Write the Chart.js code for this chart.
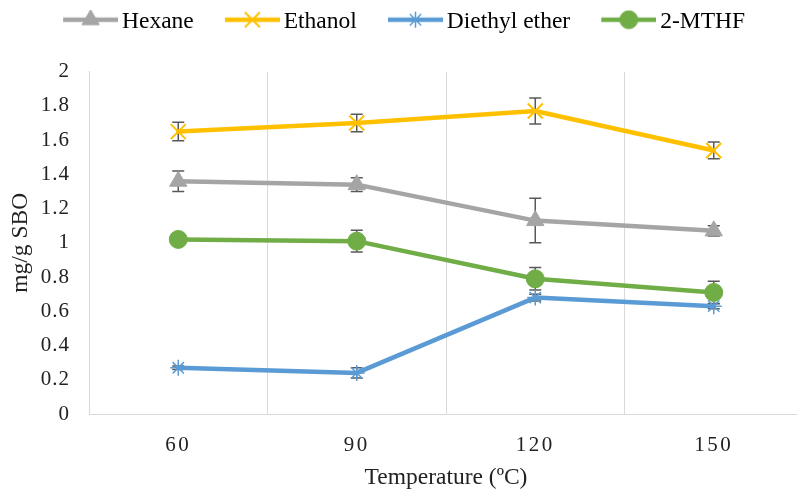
<!DOCTYPE html>
<html>
<head>
<meta charset="utf-8">
<title>Extraction yield vs temperature</title>
<script src="https://cdn.jsdelivr.net/npm/chart.js@4.4.1/dist/chart.umd.min.js"></script>
<style>
  html, body { margin: 0; padding: 0; background: #fff; overflow: hidden; }
  /* plot area runs a few px past the right edge of the window */
  #wrap { width: 803px; height: 492px; }
</style>
</head>
<body>
<div id="wrap"><canvas id="chart"></canvas></div>
<script>
// temperatures on the category axis
const temps = ['60', '90', '120', '150'];

// mean yield per solvent, mg/g SBO
const hexane = [1.36, 1.34, 1.13, 1.07];
const ethanol = [1.65, 1.70, 1.77, 1.54];
const diethylEther = [0.27, 0.24, 0.68, 0.63];
const mthf = [1.02, 1.01, 0.79, 0.71];

// +/- error for each point
const hexaneErr = [0.06, 0.04, 0.13, 0.03];
const ethanolErr = [0.054, 0.051, 0.076, 0.049];
const diethylErr = [0.01, 0.03, 0.02, 0.015];
const mthfErr = [0.02, 0.064, 0.066, 0.066];

const FONT = "'Liberation Serif', 'Times New Roman', serif";
const TEXT = '#222';
const GRID = '#d9d9d9';

// little line + marker picture for each legend entry
function legendIcon(color, style, r, bw) {
  const c = document.createElement('canvas');
  c.width = 84; c.height = 24;
  const g = c.getContext('2d');
  const cy = 10, x0 = 29, x1 = 84, cx = (x0 + x1) / 2;
  g.strokeStyle = color;
  g.lineWidth = 4.5;
  g.beginPath(); g.moveTo(x0, cy); g.lineTo(x1, cy); g.stroke();
  g.fillStyle = color;
  g.lineWidth = bw;
  g.beginPath();
  if (style === 'triangle') {
    for (let k = 0; k < 3; k++) {
      const a = k * 2 * Math.PI / 3;
      const px = cx + Math.sin(a) * r, py = cy - Math.cos(a) * r;
      k ? g.lineTo(px, py) : g.moveTo(px, py);
    }
    g.closePath(); g.fill(); g.stroke();
  } else if (style === 'circle') {
    g.arc(cx, cy, r, 0, Math.PI * 2); g.fill(); g.stroke();
  } else {
    const d = r * Math.SQRT1_2;
    g.moveTo(cx - d, cy - d); g.lineTo(cx + d, cy + d);
    g.moveTo(cx - d, cy + d); g.lineTo(cx + d, cy - d);
    if (style === 'star') {
      g.moveTo(cx, cy - r); g.lineTo(cx, cy + r);
      g.moveTo(cx - r, cy); g.lineTo(cx + r, cy);
    }
    g.stroke();
  }
  return c;
}

function series(label, data, errors, color, style, r, bw, order) {
  return {
    label, data, errors, order,
    borderColor: color,
    backgroundColor: color,
    borderWidth: 4.5,
    borderCapStyle: 'round',
    borderJoinStyle: 'round',
    tension: 0,
    fill: false,
    pointStyle: style,
    pointRadius: r,
    pointHoverRadius: r,
    pointBorderWidth: bw,
    pointBackgroundColor: color,
    pointBorderColor: color,
    icon: legendIcon(color, style, r, bw)
  };
}

// vertical error bars with caps, read through the scales
const errorBars = {
  id: 'errorBars',
  beforeDatasetsDraw(chart) {
    const { ctx, scales: { x, y } } = chart;
    ctx.save();
    ctx.strokeStyle = '#595959';
    ctx.lineWidth = 1.5;
    chart.data.datasets.forEach(ds => {
      ds.data.forEach((v, j) => {
        const e = ds.errors[j];
        if (!e) return;
        const px = x.getPixelForValue(j);
        const top = y.getPixelForValue(v + e);
        const bot = y.getPixelForValue(v - e);
        ctx.beginPath();
        ctx.moveTo(px, top); ctx.lineTo(px, bot);
        ctx.moveTo(px - 6, top); ctx.lineTo(px + 6, top);
        ctx.moveTo(px - 6, bot); ctx.lineTo(px + 6, bot);
        ctx.stroke();
      });
    });
    ctx.restore();
  }
};

// tick labels are set with a bit of letter spacing
const TICK_SPACING = { x: '2.5px', y: '1px' };
const spacedTicks = {
  id: 'spacedTicks',
  afterLayout(chart) {
    ['x', 'y'].forEach(id => {
      const s = chart.scales[id];
      if (s._spaced) return;
      const draw = s.drawLabels;
      s.drawLabels = function (area) {
        this.ctx.save();
        this.ctx.letterSpacing = TICK_SPACING[id];
        draw.call(this, area);
        this.ctx.restore();
      };
      s._spaced = true;
    });
  }
};

new Chart(document.getElementById('chart'), {
  type: 'line',
  data: {
    labels: temps,
    datasets: [
      series('Hexane', hexane, hexaneErr, '#a5a5a5', 'triangle', 10, 1, 4),
      series('Ethanol', ethanol, ethanolErr, '#ffc000', 'crossRot', 10.6, 2, 3),
      series('Diethyl ether', diethylEther, diethylErr, '#5b9bd5', 'star', 8, 1.5, 2),
      series('2-MTHF', mthf, mthfErr, '#70ad47', 'circle', 9, 1, 1)
    ]
  },
  plugins: [errorBars, spacedTicks],
  options: {
    responsive: true,
    maintainAspectRatio: false,
    animation: false,
    events: [],
    layout: {
      autoPadding: false,
      padding: { left: -16, right: 0, top: 0, bottom: 0 }
    },
    plugins: {
      tooltip: { enabled: false },
      legend: {
        position: 'top',
        labels: {
          usePointStyle: true,
          pointStyleWidth: 68.25,
          padding: 10,
          color: TEXT,
          font: { family: FONT, size: 23.5 },
          generateLabels: chart => chart.data.datasets.map((ds, i) => ({
            text: ds.label,
            pointStyle: ds.icon,
            fillStyle: ds.borderColor,
            strokeStyle: ds.borderColor,
            lineWidth: 0,
            hidden: false,
            datasetIndex: i
          }))
        }
      },
      // empty spacer between legend and plot
      title: {
        display: true,
        text: '',
        weight: 500,
        font: { size: 1 },
        padding: { top: 0, bottom: 27 }
      }
    },
    scales: {
      x: {
        offset: true,
        grid: { display: true, offset: true, color: GRID, lineWidth: 1, drawTicks: false },
        border: { display: true, color: GRID, width: 1 },
        ticks: { color: TEXT, padding: 19, font: { family: FONT, size: 21 } },
        title: {
          display: true,
          text: 'Temperature (ºC)',
          color: TEXT,
          font: { family: FONT, size: 23.5 },
          padding: { top: 0, bottom: 0 }
        },
        afterFit: s => {
          s.height = 78;
          s.paddingLeft = 0;
          s.paddingRight = 0;
        }
      },
      y: {
        min: 0,
        max: 2,
        ticks: {
          stepSize: 0.2,
          color: TEXT,
          padding: 19,
          font: { family: FONT, size: 21 },
          callback: v => String(+v.toFixed(1))
        },
        grid: { display: false, drawTicks: false },
        border: { display: true, color: GRID, width: 1 },
        title: {
          display: true,
          text: 'mg/g SBO',
          color: TEXT,
          font: { family: FONT, size: 23.5 },
          padding: { top: 23, bottom: 0 }
        },
        afterFit: s => { s.width = 105; }
      }
    }
  }
});
</script>
</body>
</html>
